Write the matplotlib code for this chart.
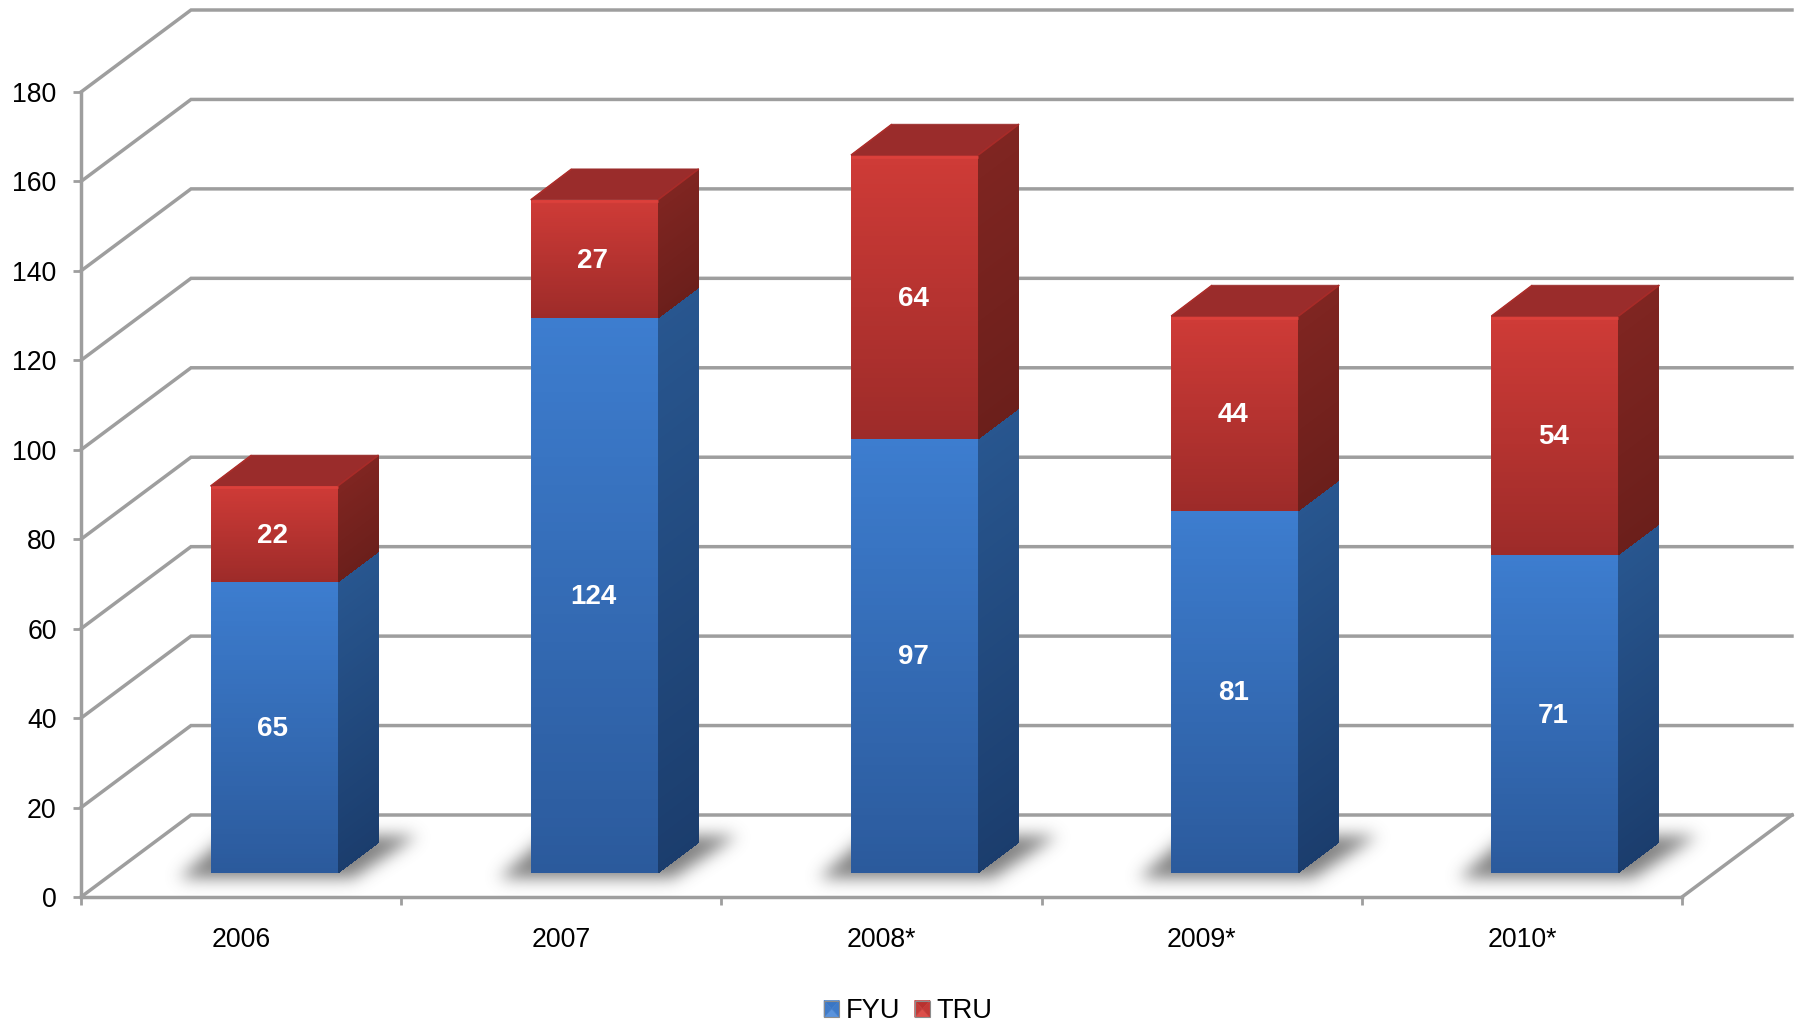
import numpy as np
import matplotlib
matplotlib.use("Agg")
import matplotlib.pyplot as plt
from matplotlib.colors import to_rgb
from matplotlib.patches import Polygon, Patch
from matplotlib.legend_handler import HandlerBase

plt.rcParams['font.family'] = ['Liberation Sans', 'DejaVu Sans']

years = ['2006', '2007', '2008*', '2009*', '2010*']
fyu = [65, 124, 97, 81, 71]
tru = [22, 27, 64, 44, 54]
yticks = list(range(0, 181, 20))

W, H = 1799, 1023
L, R, B, T = 81, 1682, 897, 92
GRAY = '#9e9e9e'
fig = plt.figure(figsize=(W / 100, H / 100), dpi=100, facecolor='white')
ax = fig.add_axes([L / W, 1 - B / H, (R - L) / W, (B - T) / H])

px_x = 5 / (R - L)
px_y = 180 / (B - T)
DX, DY = 110 * px_x, 82 * px_y          # wall depth
BW = 127 * px_x                          # bar width
BDX, BDY = 41 * px_x, 31 * px_y          # bar depth
OX, OY = 33 * px_x, 24 * px_y            # front-face offset of the bars
INSET = 2.2 * px_y                       # bevel of the bar top

# walls
for v in yticks:
    ax.plot([0, DX, 5 + DX], [v, v + DY, v + DY], color=GRAY, lw=2.5,
            clip_on=False, zorder=1, solid_joinstyle='miter')
ax.plot([5, 5 + DX], [0, DY], color=GRAY, lw=2.5, clip_on=False, zorder=1)


def face(bl, br, tl, tr, c_bottom, c_top, n=60):
    u = np.array([0, 1.0])
    v = np.linspace(0, 1, n + 1)
    X = np.array([[bl[0] + (tl[0] - bl[0]) * b + ((br[0] + (tr[0] - br[0]) * b) - (bl[0] + (tl[0] - bl[0]) * b)) * a
                   for a in u] for b in v])
    Y = np.array([[bl[1] + (tl[1] - bl[1]) * b + ((br[1] + (tr[1] - br[1]) * b) - (bl[1] + (tl[1] - bl[1]) * b)) * a
                   for a in u] for b in v])
    c0, c1 = np.array(to_rgb(c_bottom)), np.array(to_rgb(c_top))
    mid = (v[:-1] + v[1:]) / 2
    C = (c0[None, :] * (1 - mid[:, None]) + c1[None, :] * mid[:, None])[:, None, :]
    ax.pcolormesh(X, Y, C, shading='flat', antialiased=False, clip_on=False, zorder=4)


def shadow(x0, y0):
    gx = np.arange(-110, 320)
    gy = np.arange(-50, 100)
    XX, YY = np.meshgrid(gx, gy)
    t = (YY + 5) / 42
    left = -32 + t * 48
    right = 142 + t * 64
    m = ((t >= 0) & (t <= 1) & (XX >= left) & (XX <= right)).astype(float)
    s = 8.0
    k = np.exp(-0.5 * (np.arange(-24, 25) / s) ** 2)
    k /= k.sum()
    m = np.apply_along_axis(lambda r: np.convolve(r, k, mode='same'), 1, m)
    m = np.apply_along_axis(lambda r: np.convolve(r, k, mode='same'), 0, m)
    rgba = np.zeros(m.shape + (4,))
    rgba[..., :3] = 0.38
    rgba[..., 3] = m * 0.8
    ax.imshow(rgba, origin='lower', aspect='auto', interpolation='bilinear',
              extent=[x0 + gx[0] * px_x, x0 + gx[-1] * px_x, y0 + gy[0] * px_y, y0 + gy[-1] * px_y],
              clip_on=False, zorder=2)


def value_label(x, y, s):
    ax.annotate(s, (x, y), xytext=(-1.0, -1.0), textcoords='offset points', color='white', fontsize=20,
                fontweight='bold', ha='center', va='center', zorder=6, annotation_clip=False)


for i, (a, b) in enumerate(zip(fyu, tru)):
    c = i + 0.5 - BW / 2 + OX
    xl, xr = c, c + BW
    y0 = OY
    shadow(xl, y0)
    y1 = y0 + a
    y2 = y1 + b - INSET
    # blue segment
    face((xl, y0), (xr, y0), (xl, y1), (xr, y1), '#2b5a9c', '#3d7dcf')
    face((xr, y0), (xr + BDX, y0 + BDY), (xr, y1), (xr + BDX, y1 + BDY), '#1b3d6d', '#28568f')
    # red segment
    face((xl, y1), (xr, y1), (xl, y2), (xr, y2), '#9d2b29', '#cf3b37')
    face((xr, y1), (xr + BDX, y1 + BDY), (xr, y2), (xr + BDX, y2 + BDY), '#6b1f1b', '#7f2521')
    # top face
    ax.add_patch(Polygon([(xl, y2), (xr, y2), (xr + BDX, y2 + BDY), (xl + BDX, y2 + BDY)],
                         closed=True, fc='#9a2c2b', ec='#9a2c2b', lw=0.5, clip_on=False, zorder=4.5))
    # bevel highlights
    ax.plot([xl, xr], [y2 - 0.3, y2 - 0.3], color='#dc403b', lw=2, clip_on=False, zorder=5,
            solid_capstyle='butt')
    ax.plot([xl, xl + BDX], [y2, y2 + BDY], color='#ac2d2a', lw=1.2, clip_on=False, zorder=5,
            solid_capstyle='butt')
    ax.plot([xr, xr + BDX], [y2, y2 + BDY], color='#a82b28', lw=1.2, clip_on=False, zorder=5,
            solid_capstyle='butt')
    value_label((xl + xr) / 2, (y0 + y1) / 2, str(a))
    value_label((xl + xr) / 2, (y1 + y2) / 2, str(b))

ax.set_xlim(0, 5)
ax.set_ylim(0, 180)

for s in ['top', 'right']:
    ax.spines[s].set_visible(False)
for s in ['left', 'bottom']:
    ax.spines[s].set_color(GRAY)
    ax.spines[s].set_linewidth(2.5)
    ax.spines[s].set_zorder(3)
ax.patch.set_visible(False)

ax.set_yticks(yticks)
ax.set_yticklabels([str(v) for v in yticks])
ax.tick_params(axis='y', length=6, width=2, color=GRAY, pad=11.5, labelsize=19.2, labelcolor='black')
ax.set_xticks(range(6))
ax.set_xticklabels([])
ax.set_xticks(np.arange(5) + 0.5, minor=True)
ax.set_xticklabels(years, minor=True)
ax.tick_params(axis='x', which='major', length=6, width=2, color=GRAY)
ax.tick_params(axis='x', which='minor', length=0, pad=21.5, labelsize=19.2, labelcolor='black')


class Pyramid(HandlerBase):
    def __init__(self, light, mid, dark):
        super().__init__()
        self.cols = (light, mid, dark)

    def create_artists(self, legend, orig, xd, yd, w, h, fs, trans):
        x0, y0 = -xd, -yd
        cx, cy = x0 + w / 2, y0 + h / 2
        lt, md, dk = self.cols
        tl, tr, bl, br = (x0, y0 + h), (x0 + w, y0 + h), (x0, y0), (x0 + w, y0)
        tris = [([tl, tr, (cx, cy)], lt), ([bl, br, (cx, cy)], dk),
                ([tl, bl, (cx, cy)], md), ([tr, br, (cx, cy)], md)]
        arts = [Polygon(p, closed=True, fc=c, ec=c, lw=0.4, transform=trans) for p, c in tris]
        arts.append(Polygon([tl, tr, br, bl], closed=True, fc='none', ec='#8c8c8c', lw=0.8, transform=trans))
        return arts


hb = Patch(label='FYU')
hr = Patch(label='TRU')
fig.legend(handles=[hb, hr], loc='center', bbox_to_anchor=(908 / W, 1 - 1011.5 / H), ncols=2, frameon=False,
           fontsize=19.6, handlelength=0.56, handleheight=0.56, handletextpad=0.22, columnspacing=0.55,
           borderpad=0, borderaxespad=0,
           handler_map={hb: Pyramid('#3a76c4', '#3f7bc9', '#5a93dc'),
                        hr: Pyramid('#b8322f', '#c23a37', '#dc4f4a')})

fig.savefig('out.png', dpi=100, facecolor='white')
